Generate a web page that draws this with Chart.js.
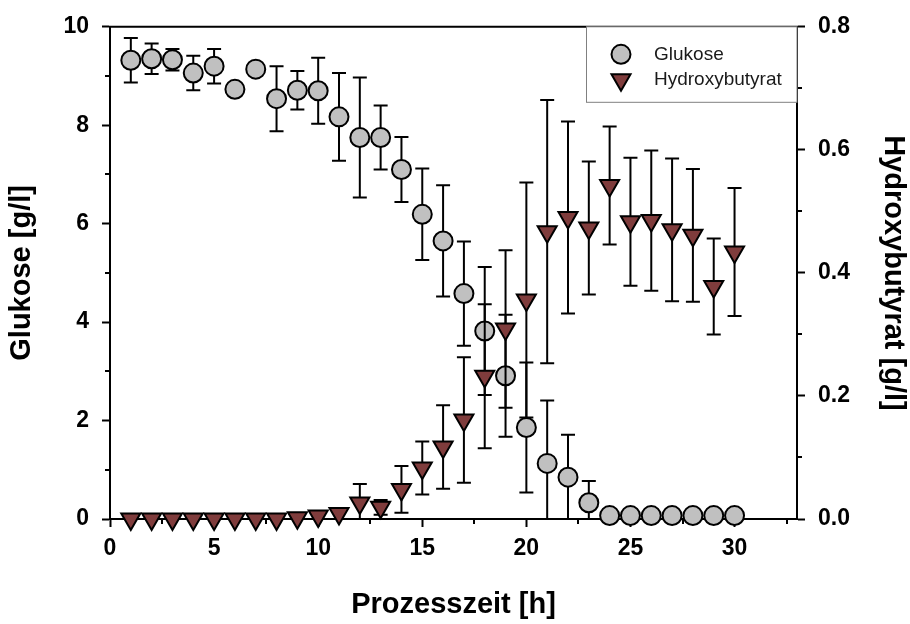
<!DOCTYPE html>
<html>
<head>
<meta charset="utf-8">
<script src="https://cdn.jsdelivr.net/npm/chart.js@4.4.1/dist/chart.umd.min.js"></script>
<style>
  html, body { margin: 0; padding: 0; background: #fff; }
  #wrap { width: 910px; height: 624px; }
</style>
</head>
<body>
<div id="wrap"><canvas id="chart" width="910" height="624"></canvas></div>
<script>
// Prozesszeit [h]
const zeit = [1, 2, 3, 4, 5, 6, 7, 8, 9, 10, 11, 12, 13, 14, 15,
              16, 17, 18, 19, 20, 21, 22, 23, 24, 25, 26, 27, 28, 29, 30];

// Glukose [g/l], Mittelwert und Standardabweichung
const glukose = [9.32, 9.35, 9.33, 9.06, 9.20, 8.73, 9.14, 8.54, 8.71, 8.70,
                 8.17, 7.75, 7.75, 7.10, 6.19, 5.65, 4.58, 3.82, 2.91, 1.86,
                 1.13, 0.85, 0.33, 0.07, 0.07, 0.07, 0.07, 0.07, 0.07, 0.07];
const glukoseSd = [0.45, 0.31, 0.22, 0.35, 0.35, 0.10, 0.10, 0.66, 0.39, 0.67,
                   0.89, 1.22, 0.65, 0.66, 0.93, 1.13, 1.06, 1.30, 1.24, 1.32,
                   1.28, 0.86, 0.44, 0, 0, 0, 0, 0, 0, 0];

// Hydroxybutyrat [g/l], Mittelwert und Standardabweichung
const hydroxy = [0, 0, 0, 0, 0, 0, 0, 0, 0.002, 0.005,
                 0.009, 0.026, 0.019, 0.048, 0.083, 0.117, 0.161, 0.232, 0.309, 0.356,
                 0.467, 0.490, 0.473, 0.542, 0.483, 0.485, 0.470, 0.461, 0.378, 0.434];
const hydroxySd = [0, 0, 0, 0, 0, 0, 0, 0, 0, 0,
                   0, 0.031, 0.012, 0.038, 0.043, 0.068, 0.102, 0.117, 0.128, 0.191,
                   0.214, 0.156, 0.108, 0.096, 0.104, 0.114, 0.116, 0.108, 0.078, 0.104];

// Achsenteilung
const xTicks = [0, 5, 10, 15, 20, 25, 30];
const xMinor = [2.5, 7.5, 12.5, 17.5, 22.5, 27.5, 32.5];
const glukoseTicks = [0, 2, 4, 6, 8, 10];
const glukoseMinor = [1, 3, 5, 7, 9];
const hbTicks = [0, 0.2, 0.4, 0.6, 0.8];
const hbMinor = [0.1, 0.3, 0.5, 0.7];

Chart.defaults.font.family = "'Liberation Sans', Arial, Helvetica, sans-serif";
Chart.defaults.color = '#000';

// Fehlerbalken direkt vor den Symbolen des jeweiligen Datensatzes zeichnen
const errorBars = {
    id: 'errorBars',
    beforeDatasetDraw(chart, args) {
        const ds = chart.data.datasets[args.index];
        if (!ds.errors) return;
        const meta = args.meta;
        const yScale = chart.scales[meta.yAxisID];
        const area = chart.chartArea;
        const ctx = chart.ctx;
        ctx.save();
        ctx.beginPath();
        ctx.rect(area.left, area.top - 30, area.right - area.left, area.bottom - area.top + 29);
        ctx.clip();
        ctx.strokeStyle = '#000';
        ctx.lineWidth = 2;
        meta.data.forEach((pt, i) => {
            const err = ds.errors[i];
            if (!err) return;
            const v = ds.data[i].y;
            const yTop = yScale.getPixelForValue(v + err);
            const yBot = yScale.getPixelForValue(v - err);
            ctx.beginPath();
            ctx.moveTo(pt.x, yTop);
            ctx.lineTo(pt.x, yBot);
            ctx.moveTo(pt.x - 7, yTop);
            ctx.lineTo(pt.x + 7, yTop);
            ctx.moveTo(pt.x - 7, yBot);
            ctx.lineTo(pt.x + 7, yBot);
            ctx.stroke();
        });
        ctx.restore();
    }
};

// Nebenstriche und obere Rahmenlinie
const frameAndMinor = {
    id: 'frameAndMinor',
    beforeDatasetsDraw(chart) {
        const { ctx, chartArea: a, scales } = chart;
        ctx.save();
        ctx.strokeStyle = '#000';
        ctx.lineWidth = 2;
        ctx.beginPath();
        xMinor.forEach(v => {
            const px = Math.round(scales.x.getPixelForValue(v));
            ctx.moveTo(px, a.bottom);
            ctx.lineTo(px, a.bottom + 5);
        });
        glukoseMinor.forEach(v => {
            const py = Math.round(scales.y.getPixelForValue(v));
            ctx.moveTo(a.left, py);
            ctx.lineTo(a.left - 5, py);
        });
        hbMinor.forEach(v => {
            const py = Math.round(scales.y1.getPixelForValue(v));
            ctx.moveTo(a.right, py);
            ctx.lineTo(a.right + 5, py);
        });
        ctx.moveTo(a.left - 1, a.top);
        ctx.lineTo(a.right + 1, a.top);
        ctx.stroke();
        ctx.restore();
    }
};

// Legende im Kasten oben rechts
const legendBox = {
    id: 'legendBox',
    afterDraw(chart) {
        const { ctx, chartArea: a } = chart;
        const left = a.right - 211;
        const bottom = a.top + 75.5;
        ctx.save();
        ctx.fillStyle = '#fff';
        ctx.fillRect(left, a.top, a.right - left, bottom - a.top);
        ctx.strokeStyle = '#808080';
        ctx.lineWidth = 1;
        ctx.strokeRect(left + 0.5, a.top, a.right - left - 0.5, bottom - a.top);
        chart.data.datasets.forEach((ds, i) => {
            const y = a.top + 27.5 + i * 25.5;
            ctx.fillStyle = ds.backgroundColor;
            ctx.strokeStyle = ds.borderColor;
            ctx.lineWidth = ds.pointBorderWidth;
            Chart.helpers.drawPoint(ctx, {
                pointStyle: ds.pointStyle,
                rotation: ds.pointRotation || 0,
                radius: ds.pointRadius,
                borderWidth: ds.pointBorderWidth
            }, left + 35, y);
            ctx.fillStyle = '#1a1a1a';
            ctx.font = "19px 'Liberation Sans', Arial, sans-serif";
            ctx.textBaseline = 'middle';
            ctx.textAlign = 'left';
            ctx.fillText(ds.label, left + 68, y);
        });
        ctx.restore();
        // Glukose-Symbole liegen über dem Kasten
    }
};

const toPoints = (xs, ys) => xs.map((x, i) => ({ x: x, y: ys[i] }));

const tickFont = { size: 23, weight: 'bold' };
const titleFont = { size: 29, weight: 'bold' };
const axisGrid = {
    drawOnChartArea: false,
    drawTicks: true,
    tickLength: 8,
    tickWidth: 2,
    tickColor: '#000'
};
const axisBorder = { display: true, color: '#000', width: 2 };

new Chart(document.getElementById('chart').getContext('2d'), {
    type: 'scatter',
    data: {
        datasets: [{
            label: 'Glukose',
            data: toPoints(zeit, glukose),
            errors: glukoseSd,
            yAxisID: 'y',
            order: 2,
            pointStyle: 'circle',
            pointRadius: 9.5,
            pointHoverRadius: 9.5,
            pointBorderWidth: 2,
            backgroundColor: '#c0c0c0',
            borderColor: '#000',
            clip: false
        }, {
            label: 'Hydroxybutyrat',
            data: toPoints(zeit, hydroxy),
            errors: hydroxySd,
            yAxisID: 'y1',
            order: 1,
            pointStyle: 'triangle',
            pointRotation: 180,
            pointRadius: 11,
            pointHoverRadius: 11,
            pointBorderWidth: 2,
            backgroundColor: '#7f3c3c',
            borderColor: '#000',
            clip: false
        }]
    },
    options: {
        responsive: false,
        animation: false,
        events: [],
        layout: { padding: { top: 23, left: 0, right: 0, bottom: 0 } },
        plugins: {
            legend: { display: false },
            tooltip: { enabled: false }
        },
        scales: {
            x: {
                type: 'linear',
                position: 'bottom',
                min: 0,
                max: 33,
                afterBuildTicks: scale => { scale.ticks = xTicks.map(v => ({ value: v })); },
                afterFit: scale => { scale.height = 105; },
                ticks: { font: tickFont, padding: 8, maxRotation: 0, callback: v => String(v) },
                grid: axisGrid,
                border: axisBorder,
                title: { display: true, text: 'Prozesszeit [h]', font: titleFont, padding: { top: 0, bottom: 2 } }
            },
            y: {
                type: 'linear',
                position: 'left',
                min: 0,
                max: 10,
                afterBuildTicks: scale => { scale.ticks = glukoseTicks.map(v => ({ value: v })); },
                afterFit: scale => { scale.width = 110; },
                ticks: { font: tickFont, padding: 13, callback: v => String(v) },
                grid: axisGrid,
                border: axisBorder,
                title: { display: true, text: 'Glukose [g/l]', font: titleFont, padding: { top: 5, bottom: 0 } }
            },
            y1: {
                type: 'linear',
                position: 'right',
                min: 0,
                max: 0.8,
                afterBuildTicks: scale => { scale.ticks = hbTicks.map(v => ({ value: v })); },
                afterFit: scale => { scale.width = 113; },
                ticks: { font: tickFont, padding: 13, callback: v => v.toFixed(1) },
                grid: axisGrid,
                border: axisBorder,
                title: { display: true, text: 'Hydroxybutyrat [g/l]', font: titleFont, padding: { top: 0, bottom: 0 } }
            }
        }
    },
    plugins: [errorBars, frameAndMinor, legendBox]
});
</script>
</body>
</html>
